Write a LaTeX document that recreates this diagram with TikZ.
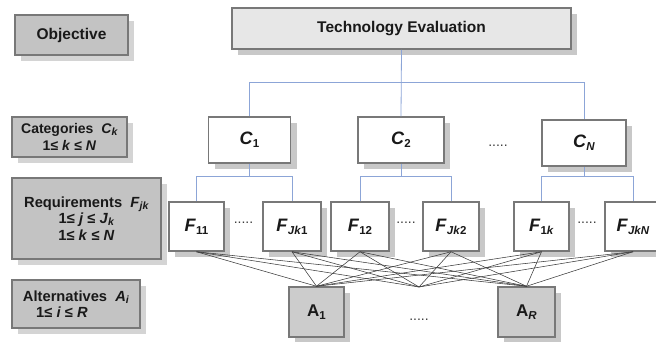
\documentclass[tikz,border=0pt]{standalone}
\usepackage{fontspec}
\setmainfont{Liberation Sans}
\usetikzlibrary{shadows}
\definecolor{bordergray}{RGB}{120,120,120}
\definecolor{darkfill}{RGB}{195,195,195}
\definecolor{lightfill}{RGB}{231,231,231}
\definecolor{shadowgray}{RGB}{200,200,200}
\definecolor{shadowlight}{RGB}{212,212,212}
\definecolor{bluel}{RGB}{140,165,215}
\definecolor{linegray}{RGB}{60,60,60}
\definecolor{txt}{RGB}{25,25,25}
\newcommand\subs[1]{\raisebox{-0.3ex}{\fontsize{11.5}{11.5}\selectfont #1}}
\newcommand\lsubs[1]{\raisebox{-0.25ex}{\fontsize{10.5}{10.5}\selectfont #1}}
\begin{document}
\begin{tikzpicture}[x=1pt,y=-1pt,
  box/.style={draw=bordergray, line width=1.5pt, inner sep=0pt, align=center, text=txt,
    drop shadow={shadow xshift=6pt, shadow yshift=-6pt, fill=shadowgray, opacity=1}},
  labbox/.style={box, fill=darkfill, font=\bfseries\fontsize{14.7}{16.5}\selectfont,
    drop shadow={shadow xshift=6pt, shadow yshift=-6pt, fill=shadowlight, opacity=1}},
  cbox/.style={box, fill=white, minimum height=46pt, font=\bfseries\fontsize{18}{20}\selectfont},
  fbox/.style={box, fill=white, minimum height=49pt, font=\bfseries\fontsize{18}{20}\selectfont},
  abox/.style={box, fill=darkfill!85, minimum height=50pt, font=\bfseries\fontsize{17}{20}\selectfont},
  dots/.style={text=linegray, font=\fontsize{14}{14}\selectfont, inner sep=0pt},
  blue link/.style={draw=bluel, line width=0.8pt},
  alt link/.style={draw=linegray, line width=0.55pt}
]
\useasboundingbox (0,0) rectangle (656,341);

% left labels
\node[labbox, minimum width=113pt, minimum height=40pt] (obj) at (71.5,35) {\fontsize{15.5}{17}\selectfont Objective};
\node[labbox, minimum width=115pt, minimum height=40pt] (cat) at (69.5,137)
  {\fontsize{14}{16}\selectfont Categories\ \ \textit{C}\lsubs{\textit{k}}\\\fontsize{14}{16}\selectfont 1≤ \textit{k} ≤ \textit{N}};
\node[labbox, minimum width=149pt, minimum height=81pt] (req) at (86.5,218.5)
  {Requirements\ \ \textit{F}\lsubs{\textit{jk}}\\1≤ \textit{j} ≤ \textit{J}\lsubs{\textit{k}}\\1≤ \textit{k} ≤ \textit{N}};
\node[labbox, minimum width=128pt, minimum height=48pt, align=left] (alt) at (76,304)
  {Alternatives\ \ \textit{A}\lsubs{\textit{i}}\\\hspace*{0.9em}1≤ \textit{i} ≤ \textit{R}};

% objective
\node[box, fill=lightfill, minimum width=339pt, minimum height=41pt,
  font=\bfseries\fontsize{15.5}{17}\selectfont] (tech) at (401.5,28.5) {Technology Evaluation};

% categories
\node[cbox, minimum width=82pt] (C1) at (249.5,140) {\textit{C}\subs{1}};
\node[cbox, minimum width=86pt] (C2) at (401,140) {\textit{C}\subs{2}};
\node[cbox, minimum width=84pt] (CN) at (584,143) {\textit{C}\subs{\textit{N}}};
\node[dots] (dc) at (498,146) {.....};

% requirements
\node[fbox, minimum width=55pt] (F11) at (196.5,226.5) {\textit{F}\subs{11}};
\node[fbox, minimum width=58pt] (FJk1) at (292,226.5) {\textit{F}\subs{\textit{Jk}1}};
\node[fbox, minimum width=58pt] (F12) at (360,226.5) {\textit{F}\subs{12}};
\node[fbox, minimum width=56pt] (FJk2) at (451,226.5) {\textit{F}\subs{\textit{Jk}2}};
\node[fbox, minimum width=55pt] (F1k) at (541.5,226.5) {\textit{F}\subs{1\textit{k}}};
\node[fbox, minimum width=56pt] (FJkN) at (633,226.5) {\textit{F}\subs{\textit{JkN}}};
\node[dots] (d1) at (243.5,223) {.....};
\node[dots] (d2) at (406,223) {.....};
\node[dots] (d3) at (587,223) {.....};

% alternatives
\node[abox, minimum width=55pt] (A1) at (316.5,312) {A\subs{1}};
\node[abox, minimum width=57pt] (AR) at (526.5,312) {A\subs{\textit{R}}};
\node[dots] (da) at (419,320) {.....};
\coordinate (Amid) at (419,287);

% blue tree links
\coordinate (ytop) at (0,82);
\coordinate (ybr) at (0,176);
\draw[blue link] (tech.south) -- (C2.north);
\draw[blue link] (C1.north) -- (C1.north |- ytop) -- (CN.north |- ytop) -- (CN.north);
\draw[blue link] (C1.south) -- (C1.south |- ybr);
\draw[blue link] (F11.north) -- (F11.north |- ybr) -- (FJk1.north |- ybr) -- (FJk1.north);
\draw[blue link] (C2.south) -- (C2.south |- ybr);
\draw[blue link] (F12.north) -- (F12.north |- ybr) -- (FJk2.north |- ybr) -- (FJk2.north);
\draw[blue link] (CN.south) -- (CN.south |- ybr);
\draw[blue link] (F1k.north) -- (F1k.north |- ybr) -- (FJkN.north |- ybr) -- (FJkN.north);

% requirement-alternative links
\foreach \f in {F11,FJk1,F12,FJk2,F1k,FJkN}{
  \draw[alt link] (\f.south) -- (A1.north);
  \draw[alt link] (\f.south) -- (Amid);
  \draw[alt link] (\f.south) -- (AR.north);
}
\end{tikzpicture}
\end{document}
